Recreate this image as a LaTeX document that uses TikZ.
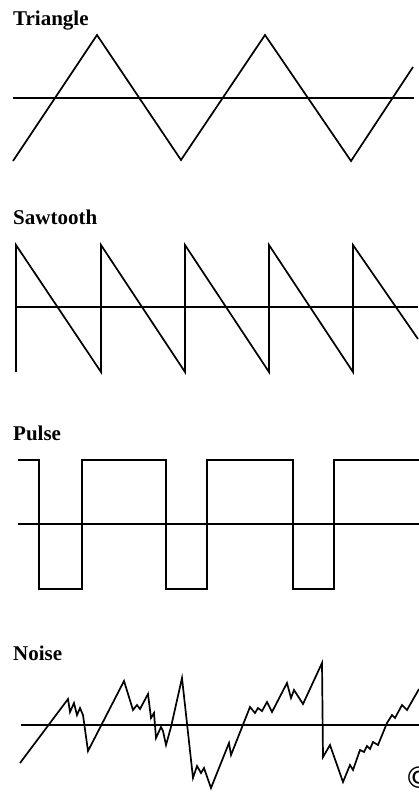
\documentclass[tikz,border=0pt]{standalone}
\usepackage{fontspec}
\setmainfont{Liberation Serif}
\newfontfamily\symfont{DejaVu Sans}
\begin{document}
\begin{tikzpicture}[x=1pt,y=-1pt,
  wave/.style={line width=1.7pt,line join=miter,black},
  axis/.style={line width=1.7pt,black},
  lbl/.style={anchor=base west,inner sep=0pt,font=\fontsize{21}{24}\selectfont\bfseries}]
\useasboundingbox (0,0) rectangle (419,804);
% Triangle
\node[lbl] (ltri) at (13,25) {Triangle};
\draw[axis] (13,98) -- (414,98);
\draw[wave] (13,161) -- (97,35) -- (181,160) -- (265,35) -- (351,161) -- (413,67);
% Sawtooth
\node[lbl] (lsaw) at (13,224) {Sawtooth};
\draw[axis] (16,307) -- (418,307);
\draw[wave] (16,372) -- (16,245) -- (101,372) -- (101,245) -- (185,372) -- (185,245)
  -- (269,372) -- (269,245) -- (353,372) -- (353,245) -- (418,339);
% Pulse
\node[lbl] (lpul) at (13,440) {Pulse};
\draw[axis] (18,524) -- (419,524);
\draw[wave] (18,460) -- (39,460) -- (39,589) -- (82,589) -- (82,460) -- (166,460)
  -- (166,589) -- (207,589) -- (207,460) -- (293,460) -- (293,589) -- (334,589)
  -- (334,460) -- (419,460);
% Noise
\node[lbl] (lnoi) at (13,660) {Noise};
\draw[axis] (21,725) -- (419,725);
\draw[wave] (20,763) -- (68,699) -- (70,712) -- (74,703) -- (77,715) -- (80,708)
  -- (83,715) -- (88,751) -- (124,681) -- (133,710) -- (137,705) -- (140,709)
  -- (148,694) -- (151,718) -- (154,713) -- (156,738) -- (161,727) -- (163,731)
  -- (166,745) -- (171,727) -- (182,678) -- (193,778) -- (197,766) -- (201,773)
  -- (204,768) -- (211,788) -- (227,748) -- (229,743) -- (231,755) -- (250,707)
  -- (255,713) -- (258,708) -- (262,711) -- (267,702) -- (272,712) -- (287,683)
  -- (291,698) -- (294,690) -- (303,704) -- (322,663) -- (323,757) -- (330,745)
  -- (343,782) -- (350,765) -- (353,770) -- (360,750) -- (364,752) -- (367,746)
  -- (370,749) -- (373,742) -- (378,745) -- (387,723) -- (392,715) -- (395,718)
  -- (402,705) -- (407,710) -- (419,689);
% copyright mark, cut at the edge as in the reference
\begin{scope}
\clip (0,0) rectangle (419,804);
\node[inner sep=0pt,anchor=center,font=\symfont\fontsize{30}{30}\selectfont] (copy) at (419,778) {©};
\end{scope}
\end{tikzpicture}
\end{document}
